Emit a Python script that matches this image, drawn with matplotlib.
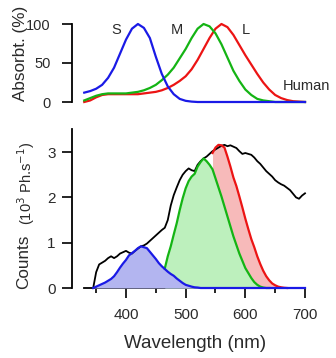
import matplotlib
matplotlib.use("Agg")
import matplotlib.pyplot as plt
from matplotlib.ticker import FixedLocator

plt.rcParams['font.family'] = ['Liberation Sans', 'DejaVu Sans']

# ---------------- data ----------------
# Top panel: cone absorbance (%)
wl_abs = list(range(330, 701, 10))
S_abs = [12, 14, 17, 22, 31, 44, 62, 80, 94, 100, 95, 82, 58, 36, 20, 10, 4, 1.5, 0.5,
         0, 0, 0, 0, 0, 0, 0, 0, 0, 0, 0, 0, 0, 0, 0, 0, 0, 0, 0]
M_abs = [2, 5, 8, 10, 11, 11, 11, 11, 12, 13, 15, 18, 22, 28, 35, 44, 56, 68, 82, 94,
         100, 97, 88, 74, 57, 40, 27, 16, 9, 4, 2, 1, 0, 0, 0, 0, 0, 0]
L_abs = [0, 2, 6, 9, 10, 10, 10, 10, 10, 10, 11, 12, 13, 15, 18, 22, 27, 33, 42, 54,
         68, 82, 94, 100, 96, 86, 73, 60, 48, 36, 25, 16, 9, 5, 2.5, 1, 0.5, 0]

# Bottom panel: counts (10^3 Ph/s)
wl_counts = list(range(345, 701, 5))
counts = [0, 0.35, 0.52, 0.56, 0.60, 0.66, 0.70, 0.66, 0.70, 0.76, 0.79, 0.82, 0.78, 0.76,
          0.82, 0.87, 0.92, 0.94, 0.98, 1.04, 1.10, 1.16, 1.22, 1.28, 1.33, 1.50, 1.82,
          2.05, 2.22, 2.38, 2.50, 2.58, 2.64, 2.60, 2.58, 2.72, 2.80, 2.86, 2.90, 2.96,
          3.02, 3.06, 3.10, 3.14, 3.16, 3.13, 3.15, 3.12, 3.09, 3.02, 2.96, 2.98, 2.96,
          2.94, 2.88, 2.80, 2.74, 2.66, 2.58, 2.52, 2.46, 2.38, 2.33, 2.29, 2.26, 2.21,
          2.16, 2.08, 2.00, 1.97, 2.04, 2.09]
S_counts = [0, 0.03, 0.06, 0.09, 0.12, 0.16, 0.20, 0.26, 0.35, 0.45, 0.54, 0.62, 0.72,
            0.77, 0.82, 0.88, 0.92, 0.90, 0.88, 0.80, 0.72, 0.64, 0.55, 0.48, 0.42, 0.36,
            0.31, 0.27, 0.21, 0.16, 0.11, 0.07, 0.05, 0.03, 0.015, 0.01] + [0] * 36
wl_M = list(range(465, 641, 5))
M_counts = [0.43, 0.70, 0.92, 1.18, 1.43, 1.72, 1.98, 2.20, 2.36, 2.46, 2.52, 2.68, 2.78,
            2.86, 2.80, 2.72, 2.62, 2.42, 2.22, 2.02, 1.80, 1.58, 1.36, 1.14, 0.95, 0.76,
            0.60, 0.44, 0.33, 0.22, 0.13, 0.07, 0.03, 0.01, 0, 0]
wl_L = list(range(545, 671, 5))
L_counts = [2.98, 3.10, 3.16, 3.15, 3.10, 2.90, 2.68, 2.44, 2.25, 2.02, 1.78, 1.53, 1.30,
            1.08, 0.90, 0.70, 0.53, 0.38, 0.26, 0.17, 0.10, 0.06, 0.03, 0.015, 0.005, 0]

x_ticks = [400, 500, 600, 700]
cone_labels = ["S", "M", "L"]

# ---------------- styling ----------------
W, H = 336, 358
blue, green, red = "#1a1ae6", "#14b414", "#ec1414"
blue_f, green_f, red_f = "#b3b5f0", "#bdf0bd", "#f7baba"
txt = "#2a2a2a"

fig = plt.figure(figsize=(W / 100, H / 100), dpi=100)

xl = (309.5, 702)
left = 72 / W
width = (305 + 2 * 0.5967 - 72) / W

# top axes
y0_top, y100_top = 102, 24
ppu = (y0_top - y100_top) / 100
ylt = (-3, 106)
bot_px = y0_top - ylt[0] * ppu
top_px = y100_top - (ylt[1] - 100) * ppu
ax1 = fig.add_axes([left, 1 - bot_px / H, width, (bot_px - top_px) / H])
ax1.set_xlim(*xl)
ax1.set_ylim(*ylt)
for sp in ["top", "right", "bottom"]:
    ax1.spines[sp].set_visible(False)
ax1.spines["left"].set_bounds(0, 100)
ax1.spines["left"].set_linewidth(1.3)
ax1.set_xticks([])
ax1.set_yticks([0, 50, 100])
ax1.tick_params(axis="y", length=7.2, width=1.2, pad=8, labelsize=10.5, labelcolor=txt)
ax1.plot(wl_abs, L_abs, color=red, lw=1.6, clip_on=False)
ax1.plot(wl_abs, M_abs, color=green, lw=1.6, clip_on=False)
ax1.plot(wl_abs, S_abs, color=blue, lw=1.6, clip_on=False)
for lab, xx in zip(cone_labels, [383, 485, 601]):
    ax1.text(xx, 92, lab, ha="center", va="center", fontsize=10.5, color=txt)
ax1.text(663, 20.5, "Human", ha="left", va="center", fontsize=10.5, color=txt, clip_on=False)
fig.text(21 / W, 1 - 53 / H, "Absorbt. (%)", rotation=90, ha="center", va="center",
         fontsize=12.3, color=txt)

# bottom axes
y0_b = 288
ppu_b = 45.3
ylb = (0, 3.5)
top_b = y0_b - ylb[1] * ppu_b
ax2 = fig.add_axes([left, 1 - y0_b / H, width, (y0_b - top_b) / H])
ax2.set_xlim(*xl)
ax2.set_ylim(*ylb)
for sp in ["top", "right"]:
    ax2.spines[sp].set_visible(False)
ax2.spines["bottom"].set_bounds(330, 700)
ax2.spines["bottom"].set_linewidth(1.3)
ax2.spines["left"].set_linewidth(1.3)
ax2.xaxis.set_major_locator(FixedLocator(x_ticks))
ax2.xaxis.set_minor_locator(FixedLocator([350, 450, 550, 650]))
ax2.set_yticks([0, 1, 2, 3])
ax2.tick_params(axis="x", which="major", length=7.5, width=1.2, pad=7, labelsize=11, labelcolor=txt)
ax2.tick_params(axis="x", which="minor", length=3.8, width=1.2)
ax2.tick_params(axis="y", length=7.2, width=1.2, pad=4.5, labelsize=11, labelcolor=txt)

ax2.fill_between(wl_L, 0, L_counts, color=red_f, lw=0, zorder=2)
ax2.fill_between(wl_M, 0, M_counts, color=green_f, lw=0, zorder=3)
ax2.fill_between(wl_counts, 0, S_counts, color=blue_f, lw=0, zorder=4)
ax2.plot(wl_counts, counts, color="black", lw=1.3, zorder=5, clip_on=False)
ax2.plot(wl_L, L_counts, color=red, lw=1.6, zorder=6, clip_on=False)
ax2.plot(wl_M, M_counts, color=green, lw=1.6, zorder=7, clip_on=False)
ax2.plot(wl_counts, S_counts, color=blue, lw=1.6, zorder=8, clip_on=False)

fig.text(24 / W, 1 - 261.5 / H, "Counts", rotation=90, ha="center", va="center",
         fontsize=12.3, color=txt)
fig.text(26 / W, 1 - 183 / H, "(10$^{3}$ Ph.s$^{-1}$)", rotation=90, ha="center",
         va="center", fontsize=10.5, color=txt)
fig.text(195 / W, 1 - 344 / H, "Wavelength (nm)", ha="center", va="center",
         fontsize=13.5, color=txt)

fig.savefig("out.png", dpi=100)
